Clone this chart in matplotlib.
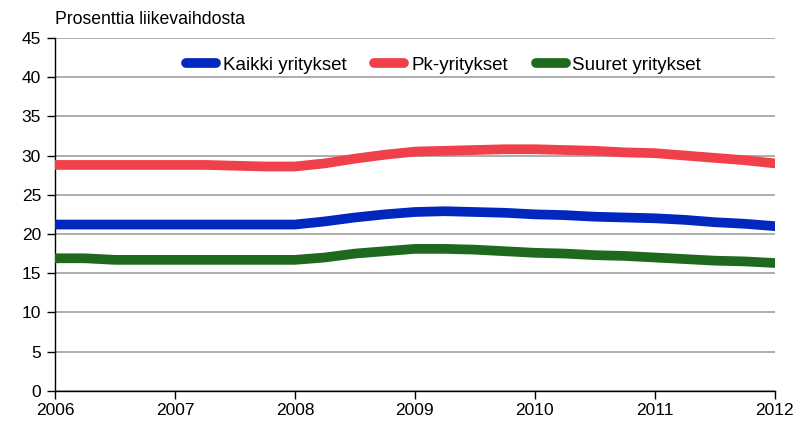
import matplotlib
matplotlib.use("Agg")
import matplotlib.pyplot as plt

plt.rcParams['font.family'] = ['Liberation Sans', 'DejaVu Sans']

years = [2006 + 0.25 * i for i in range(25)]
kaikki = [21.2, 21.2, 21.2, 21.2, 21.2, 21.2, 21.2, 21.2, 21.2,
          21.6, 22.1, 22.5, 22.8, 22.9, 22.8, 22.7, 22.5, 22.4, 22.2, 22.1,
          22.0, 21.8, 21.5, 21.3, 21.0]
pk = [28.8, 28.8, 28.8, 28.8, 28.8, 28.8, 28.7, 28.6, 28.6,
      29.0, 29.6, 30.1, 30.5, 30.6, 30.7, 30.8, 30.8, 30.7, 30.6, 30.4,
      30.3, 30.0, 29.7, 29.4, 29.0]
suuret = [16.9, 16.9, 16.7, 16.7, 16.7, 16.7, 16.7, 16.7, 16.7,
          17.0, 17.5, 17.8, 18.1, 18.1, 18.0, 17.8, 17.6, 17.5, 17.3, 17.2,
          17.0, 16.8, 16.6, 16.5, 16.3]
labels = ["Kaikki yritykset", "Pk-yritykset", "Suuret yritykset"]
colors = ["#0028BE", "#F0404A", "#1E691E"]
yticks = list(range(0, 50, 5))
xticks = list(range(2006, 2013))

fig = plt.figure(figsize=(7.97, 4.30), dpi=100)
ax = fig.add_axes([0.069, 0.091, 0.903, 0.821])

for series, lab, col in zip([kaikki, pk, suuret], labels, colors):
    ax.plot(years, series, color=col, lw=7, label=lab, solid_capstyle='round', zorder=3)

ax.set_xlim(2006, 2012)
ax.set_ylim(0, 45)
ax.set_yticks(yticks)
ax.set_xticks(xticks)
ax.yaxis.grid(True, color='#A0A0A0', lw=1.2)
ax.set_axisbelow(True)
for s in ['top', 'right']:
    ax.spines[s].set_visible(False)
for s in ['left', 'bottom']:
    ax.spines[s].set_color('black')
    ax.spines[s].set_linewidth(1.0)
ax.tick_params(axis='both', direction='out', length=6, width=1, labelsize=12.5, colors='black')
ax.tick_params(axis='y', pad=4)
ax.tick_params(axis='x', pad=3)

fig.text(0.069, 0.935, "Prosenttia liikevaihdosta", fontsize=12.7, ha='left', va='bottom')

leg = ax.legend(loc='upper center', bbox_to_anchor=(0.54, 0.995), ncol=3, frameon=False,
                fontsize=13.5, handlelength=1.6, handletextpad=0.35, columnspacing=1.5)

fig.savefig("out.png", dpi=100)
